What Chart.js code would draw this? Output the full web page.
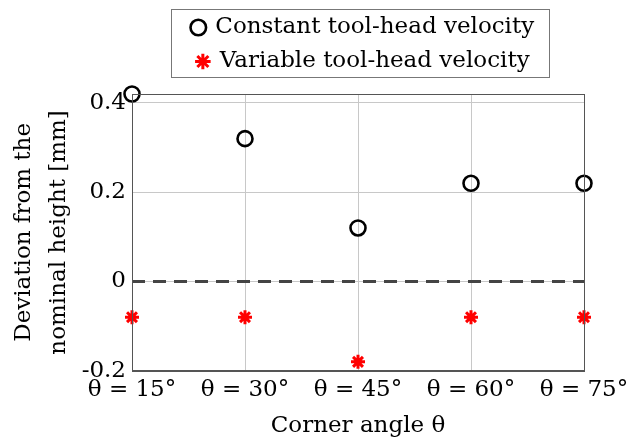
<!DOCTYPE html>
<html>
<head>
<meta charset="utf-8">
<script src="https://cdn.jsdelivr.net/npm/chart.js@4"></script>
<style>
  html, body { margin: 0; padding: 0; background: #fff; }
  #wrap { width: 629px; height: 444px; }
</style>
</head>
<body>
<div id="wrap"><canvas id="chart" width="629" height="444"></canvas></div>
<script>
// data
const categories = ['θ = 15°', 'θ = 30°', 'θ = 45°', 'θ = 60°', 'θ = 75°'];
const constantVel = [0.42, 0.32, 0.12, 0.22, 0.22];
const variableVel = [-0.08, -0.08, -0.18, -0.08, -0.08];
const nominal = [0, 0, 0, 0, 0];
const yTicks = [-0.2, 0, 0.2, 0.4];

const FONT = '"DejaVu Serif", serif';
const FS = 23;
const LEGEND_SHIFT = 46;   // legend sits over the plot, not the canvas
const LEGEND_EXTRA = 11;   // gap between legend and plot

// frame round the plot and round the legend, legend nudged right
const boxPlugin = {
  id: 'boxes',
  beforeLayout(chart) {
    const lg = chart.legend;
    if (lg && !lg._patched) {
      const fit = lg.fit.bind(lg);
      lg.fit = function () { fit(); this.height += LEGEND_EXTRA; };
      lg._patched = true;
    }
  },
  afterLayout(chart) {
    chart.legend.left += LEGEND_SHIFT;
    chart.legend.right += LEGEND_SHIFT;
  },
  afterDraw(chart) {
    const c = chart.ctx, a = chart.chartArea, lg = chart.legend;
    c.save();
    c.strokeStyle = '#555';
    c.lineWidth = 1;
    c.strokeRect(Math.round(a.left) + 0.5, Math.round(a.top) + 0.5,
                 Math.round(a.right - a.left), Math.round(a.bottom - a.top));
    const hb = lg.legendHitBoxes;
    const x0 = Math.min(...hb.map(h => h.left)) - 22;
    const x1 = Math.max(...hb.map(h => h.left + h.width)) + 15;
    const y0 = Math.min(...hb.map(h => h.top)) - 7;
    const y1 = Math.max(...hb.map(h => h.top + h.height)) + 4;
    c.strokeStyle = '#777';
    c.strokeRect(Math.round(x0) + 0.5, Math.round(y0) + 0.5, Math.round(x1 - x0), Math.round(y1 - y0));
    c.restore();
  }
};

new Chart(document.getElementById('chart'), {
  type: 'line',
  data: {
    labels: categories,
    datasets: [
      {
        label: 'Constant tool-head velocity',
        data: constantVel,
        showLine: false,
        pointStyle: 'circle',
        pointRadius: 7.5,
        pointBorderWidth: 2.6,
        borderColor: '#000',
        backgroundColor: 'rgba(0,0,0,0)',
        borderWidth: 2.6,
        clip: false,
        order: 1
      },
      {
        label: 'Variable tool-head velocity',
        data: variableVel,
        showLine: false,
        pointStyle: 'star',
        pointRadius: 7,
        pointBorderWidth: 3,
        borderColor: '#ff0000',
        backgroundColor: '#ff0000',
        borderWidth: 3,
        clip: false,
        order: 1
      },
      {
        label: 'nominal',
        data: nominal,
        borderColor: '#444',
        borderWidth: 3,
        borderDash: [13, 8],
        pointRadius: 0,
        order: 2
      }
    ]
  },
  options: {
    responsive: false,
    animation: false,
    layout: { padding: { top: 5, left: 6, right: 0, bottom: 4 } },
    plugins: {
      tooltip: { enabled: false },
      legend: {
        position: 'top',
        labels: {
          usePointStyle: true,
          boxWidth: 11,
          boxHeight: 11,
          color: '#000',
          font: { family: FONT, size: FS },
          padding: 11,
          filter: (item) => item.text !== 'nominal'
        }
      }
    },
    scales: {
      x: {
        type: 'category',
        offset: false,
        // let the last tick label run close to the canvas edge
        afterFit: (s) => { s.paddingRight = 45; },
        grid: { color: '#c8c8c8', lineWidth: 1, tickLength: 0 },
        border: { color: '#555' },
        ticks: { color: '#000', font: { family: FONT, size: FS }, maxRotation: 0, padding: 5 },
        title: { display: true, text: 'Corner angle θ', color: '#000',
                 font: { family: FONT, size: FS }, padding: { top: 4, bottom: 0 } }
      },
      y: {
        min: -0.2,
        max: 0.42,
        afterBuildTicks: (s) => { s.ticks = yTicks.map(v => ({ value: v })); },
        afterFit: (s) => { s.width = 126; },
        grid: { color: '#c8c8c8', lineWidth: 1, tickLength: 0 },
        border: { color: '#555' },
        ticks: {
          color: '#000',
          font: { family: FONT, size: FS },
          padding: 6,
          callback: (v) => (v === 0 ? '0' : v.toFixed(1))
        },
        title: { display: true, text: ['Deviation from the', 'nominal height [mm]'],
                 color: '#000', font: { family: FONT, size: FS, lineHeight: 1.55 }, padding: 0 }
      }
    }
  },
  plugins: [boxPlugin]
});
</script>
</body>
</html>
